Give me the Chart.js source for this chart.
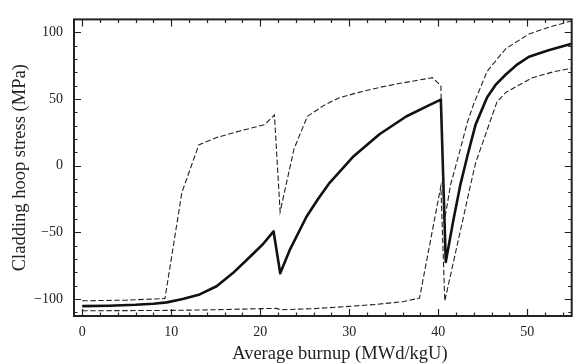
<!DOCTYPE html>
<html>
<head>
<meta charset="utf-8">
<script src="https://cdn.jsdelivr.net/npm/chart.js@4/dist/chart.umd.min.js"></script>
<style>
  html, body { margin: 0; padding: 0; background: #fff; }
  #wrap { width: 575px; height: 364px; }
</style>
</head>
<body>
<div id="wrap"><canvas id="c" width="575" height="364"></canvas></div>
<script>
// ---- data ----
const meanBurnup  = [0, 3, 6, 8, 9.5, 11.3, 13.2, 15.1, 16.9, 18.8, 20.3, 21.5, 22.25, 23.3, 25.2, 26.5, 27.8, 30.4, 33.4, 36.4, 39.0, 40.3, 40.85, 41.7, 42.5, 43.3, 44.2, 45.5, 46.5, 47.6, 48.9, 50.2, 52.4, 55];
const meanStress  = [-105.3, -105, -104.3, -103.5, -102.5, -100, -96.5, -90.4, -80.7, -68.6, -58.9, -49.2, -80.7, -63.5, -38.3, -25, -12.8, 6.5, 23.6, 36.9, 45.4, 49.5, -72.2, -41, -14, 7.8, 30.8, 51.4, 61, 68.4, 76, 81.7, 86.5, 91.5];

const upperBurnup = [0, 5, 9.3, 11.2, 13.1, 15.1, 17.7, 20.5, 21.6, 22.24, 23.8, 25.3, 27.2, 28.9, 31.1, 33.4, 35.6, 39.35, 40.3, 40.66, 41.4, 42.3, 43.3, 44.0, 45.5, 47.6, 50.2, 52.5, 55];
const upperStress = [-101.3, -100.8, -99.6, -20.1, 15.6, 21.1, 26, 30.8, 38, -34.6, 12.6, 37, 45.4, 51, 55, 58.7, 61.6, 66, 60, -43, -14, 7.8, 33, 46.5, 70.8, 87.8, 98.7, 104, 108.5];

const lowerBurnup = [0, 10, 15, 20, 21.8, 22.3, 26, 30, 33, 36, 37.9, 40.3, 40.74, 43.65, 44.2, 46.6, 47.6, 50.6, 53, 55];
const lowerStress = [-108.8, -108.5, -108, -107.2, -107, -108, -107.2, -105.5, -104, -102, -99.3, -15.3, -101.5, -14, 2, 47.8, 55, 66, 70.5, 73];

const xTickValues = [0, 10, 20, 30, 40, 50];
const yTickValues = [-100, -50, 0, 50, 100];
const xMinorStep = 2;
const yMinorStep = 10;

const xTitle = 'Average burnup (MWd/kgU)';
const yTitle = 'Cladding hoop stress (MPa)';

const INK = '#222';
const FONT = '"Liberation Serif", "Times New Roman", serif';

const toPoints = (xs, ys) => xs.map((v, i) => ({ x: v, y: ys[i] }));
const fmt = v => (v < 0 ? '\u2212' + Math.abs(v) : String(v));

const framePlugin = {
  id: 'frameTicks',
  afterDraw(chart) {
    const { ctx, chartArea: a, scales: { x, y } } = chart;
    ctx.save();
    ctx.strokeStyle = INK;
    ctx.lineWidth = 1.2;
    ctx.beginPath();
    for (let v = Math.ceil(x.min / xMinorStep) * xMinorStep; v <= x.max + 1e-9; v += xMinorStep) {
      const p = Math.round(x.getPixelForValue(v)) + 0.5;
      const len = xTickValues.includes(v) ? 7 : 3.5;
      ctx.moveTo(p, a.bottom); ctx.lineTo(p, a.bottom - len);
      ctx.moveTo(p, a.top); ctx.lineTo(p, a.top + len);
    }
    for (let v = Math.ceil(y.min / yMinorStep) * yMinorStep; v <= y.max - 1; v += yMinorStep) {
      const p = Math.round(y.getPixelForValue(v)) + 0.5;
      const len = yTickValues.includes(v) ? 7 : 3.5;
      ctx.moveTo(a.left, p); ctx.lineTo(a.left + len, p);
      ctx.moveTo(a.right, p); ctx.lineTo(a.right - len, p);
    }
    ctx.stroke();
    ctx.lineWidth = 2;
    ctx.strokeRect(a.left, a.top, a.right - a.left, a.bottom - a.top);
    // x axis title (offset to the right as in the reference)
    ctx.fillStyle = INK;
    ctx.font = '18.5px ' + FONT;
    ctx.textAlign = 'center';
    ctx.textBaseline = 'alphabetic';
    ctx.fillText(xTitle, (a.left + a.right) / 2 + 17, chart.height - 5);
    ctx.restore();
  }
};

new Chart(document.getElementById('c'), {
  type: 'line',
  data: {
    datasets: [
      { label: 'Upper bound', data: toPoints(upperBurnup, upperStress), borderColor: INK, borderWidth: 1.1, borderDash: [5.5, 2.5], pointRadius: 0, tension: 0, fill: false },
      { label: 'Lower bound', data: toPoints(lowerBurnup, lowerStress), borderColor: INK, borderWidth: 1.1, borderDash: [5.5, 2.5], pointRadius: 0, tension: 0, fill: false },
      { label: 'Mean', data: toPoints(meanBurnup, meanStress), borderColor: '#111', borderWidth: 2.6, borderJoinStyle: 'round', pointRadius: 0, tension: 0, fill: false }
    ]
  },
  options: {
    responsive: false,
    animation: false,
    devicePixelRatio: 1,
    layout: { padding: { left: 0, right: 3.3, top: 10, bottom: 0 } },
    plugins: { legend: { display: false }, tooltip: { enabled: false } },
    scales: {
      x: {
        type: 'linear',
        min: -0.92,
        max: 55,
        afterBuildTicks: s => { s.ticks = xTickValues.map(v => ({ value: v })); },
        afterFit: s => { s.height = 48; },
        grid: { display: false, drawTicks: false },
        border: { display: false },
        ticks: { color: INK, font: { family: FONT, size: 14 }, padding: 8, maxRotation: 0, autoSkip: false, callback: v => fmt(v) },
        title: { display: false }
      },
      y: {
        type: 'linear',
        min: -112.7,
        max: 109.7,
        afterBuildTicks: s => { s.ticks = yTickValues.map(v => ({ value: v })); },
        afterFit: s => { s.width = 74; },
        grid: { display: false, drawTicks: false },
        border: { display: false },
        ticks: { color: INK, font: { family: FONT, size: 14 }, padding: 11, autoSkip: false, callback: v => fmt(v) },
        title: { display: true, text: yTitle, color: INK, font: { family: FONT, size: 18.5 }, padding: { top: 9, bottom: 0 } }
      }
    }
  },
  plugins: [framePlugin]
});
</script>
</body>
</html>
